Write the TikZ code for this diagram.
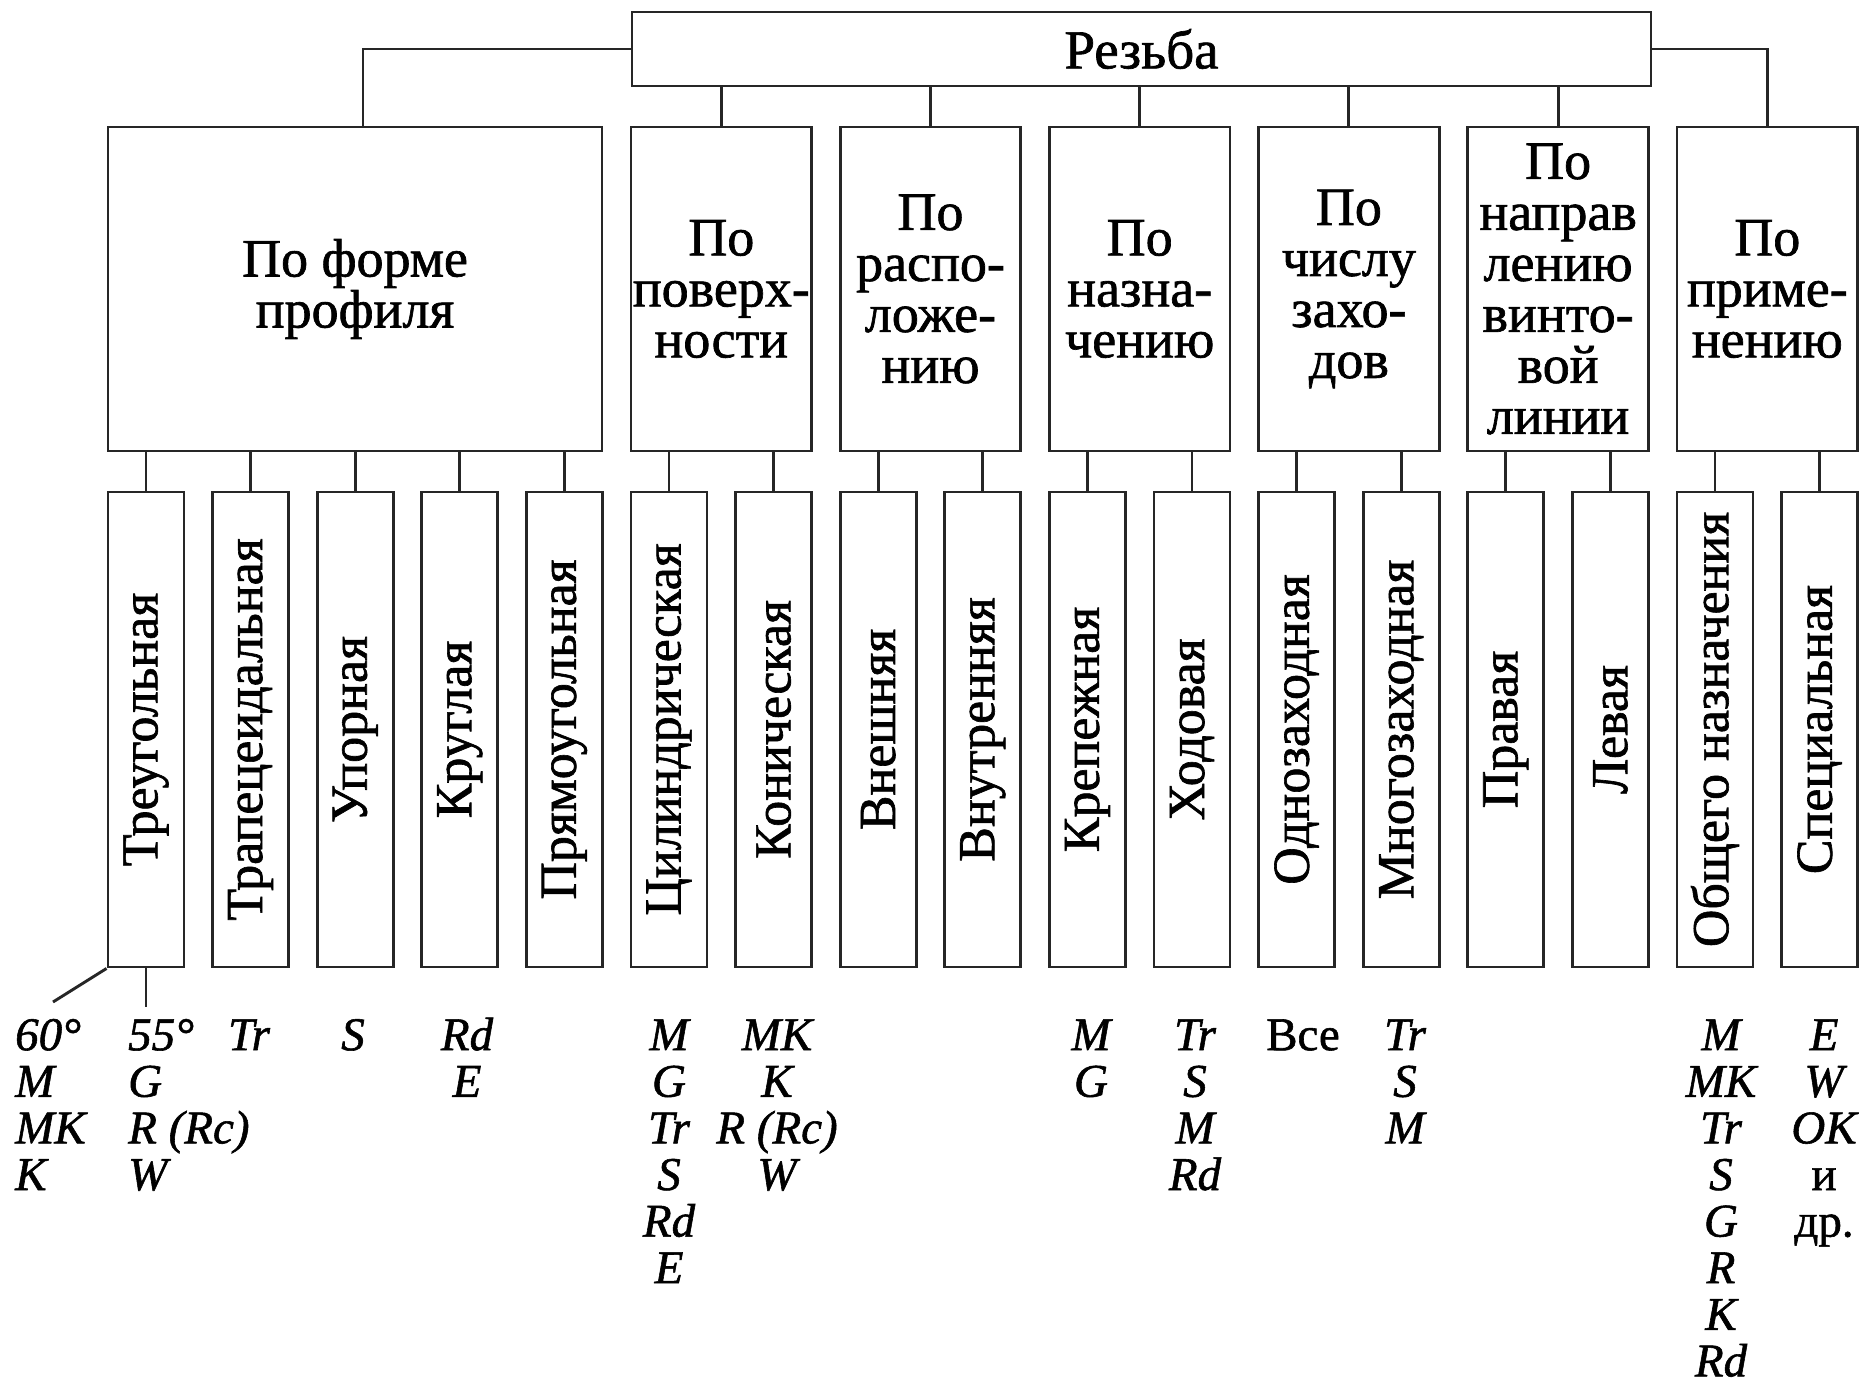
\documentclass[tikz,border=0pt]{standalone}
\usepackage{fontspec}
\usepackage{graphicx}
\setmainfont{Liberation Serif}[FakeBold=1.2]
\begin{document}
\begin{tikzpicture}[x=1pt,y=-1pt,
  ln/.style={line width=2.9pt, draw=black!85},
  topbox/.style={ln, rectangle, inner sep=0pt, minimum width=1019pt, minimum height=74pt, font=\fontsize{55}{51}\selectfont},
  catbox/.style={ln, rectangle, inner sep=0pt, minimum height=324pt, align=center, font=\fontsize{54}{51}\selectfont},
  leafbox/.style={ln, rectangle, inner sep=0pt, minimum width=76pt, minimum height=475pt, font=\fontsize{52}{52}\selectfont},
  codes/.style={inner sep=0pt, align=center, anchor=north, font=\fontsize{47}{46.6}\selectfont\itshape},
  codesl/.style={codes, align=left, anchor=north west},
]
\useasboundingbox[fill=white] (0,0) rectangle (1860,1383);
% top
\node[topbox] (rez) at (1141.5,49) {Резьба};
% categories
\node[catbox, minimum width=494pt]   (pf) at (355,289)    {По форме\\профиля};
\node[catbox, minimum width=180.6pt] (pp) at (721.3,289)  {По\\поверх-\\ности};
\node[catbox, minimum width=180.6pt] (pr) at (930.5,289)  {По\\распо-\\ложе-\\нию};
\node[catbox, minimum width=180.6pt] (pn) at (1139.7,289) {По\\назна-\\чению};
\node[catbox, minimum width=180.6pt] (pc) at (1348.9,289) {По\\числу\\захо-\\дов};
\node[catbox, minimum width=180.6pt] (pv) at (1558.1,289) {По\\направ\\лению\\винто-\\вой\\линии};
\node[catbox, minimum width=180.6pt] (pa) at (1767.3,289) {По\\приме-\\нению};
% leaves
\foreach \i/\t in {0/Треугольная, 1/Трапецеидальная, 2/Упорная, 3/Круглая, 4/Прямоугольная,
  5/Цилиндрическая, 6/Коническая, 7/Внешняя, 8/Внутренняя, 9/Крепежная, 10/Ходовая,
  11/Однозаходная, 12/Многозаходная, 13/Правая, 14/Левая, 15/Общего назначения, 16/Специальная}
  \node[leafbox] (c\i) at ({146+104.6*\i},729.5) {\rotatebox{90}{\t}};
% connectors top
\draw[ln] (rez.west) -| ([xshift=8pt]pf.north);
\draw[ln] (rez.east) -| (pa.north);
\foreach \p in {pp,pr,pn,pc,pv}
  \draw[ln] (rez.south -| \p.north) -- (\p.north);
% connectors to leaves
\foreach \c/\p in {0/pf,1/pf,2/pf,3/pf,4/pf,5/pp,6/pp,7/pr,8/pr,9/pn,10/pn,11/pc,12/pc,13/pv,14/pv,15/pa,16/pa}
  \draw[ln] (\p.south -| c\c.north) -- (c\c.north);
% leaders under Треугольная
\coordinate (d60) at (53,1002);
\coordinate (d55) at (146,1007);
\draw[ln] (c0.south west) -- (d60);
\draw[ln] (c0.south) -- (d55);
% codes
\node[codesl] (l60) at (15,1012)  {\rule{0pt}{38pt}60°\\M\\MK\\K};
\node[codesl] (l55) at (128,1012) {\rule{0pt}{38pt}55°\\G\\R (Rc)\\W};
\node[codes] (ltr) at (249,1012)  {\rule{0pt}{38pt}Tr};
\node[codes] (ls)  at (353,1012)  {\rule{0pt}{38pt}S};
\node[codes] (lrd) at (467,1012)  {\rule{0pt}{38pt}Rd\\E};
\node[codes] (lcy) at (669,1012)  {\rule{0pt}{38pt}M\\G\\Tr\\S\\Rd\\E};
\node[codes] (lko) at (777,1012)  {\rule{0pt}{38pt}MK\\K\\R (Rc)\\W};
\node[codes] (lkr) at (1091,1012) {\rule{0pt}{38pt}M\\G};
\node[codes] (lho) at (1195,1012) {\rule{0pt}{38pt}Tr\\S\\M\\Rd};
\node[codes] (lod) at (1303,1012) {\rule{0pt}{38pt}{\upshape Все}};
\node[codes] (lmn) at (1405,1012) {\rule{0pt}{38pt}Tr\\S\\M};
\node[codes] (lob) at (1721,1012) {\rule{0pt}{38pt}M\\MK\\Tr\\S\\G\\R\\K\\Rd};
\node[codes] (lsp) at (1824,1012) {\rule{0pt}{38pt}E\\W\\OK\\{\upshape и}\\{\upshape др.}};
\end{tikzpicture}
\end{document}
